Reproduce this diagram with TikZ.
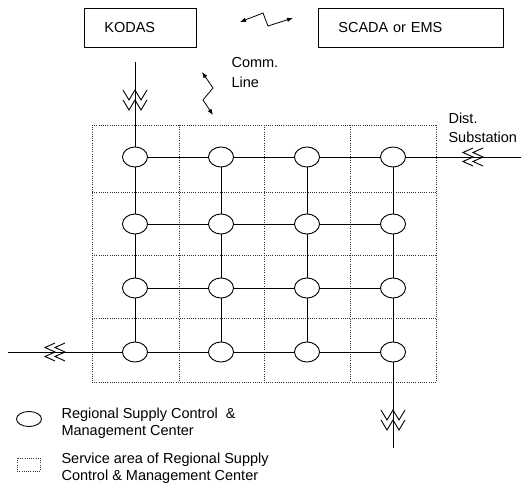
\documentclass[tikz,border=0pt]{standalone}
\usepackage{fontspec}
\setmainfont{Liberation Sans}
\usepackage{tikz}
\usetikzlibrary{arrows.meta, shapes.geometric}

\tikzset{
    box/.style={draw, line width=0.8pt, inner xsep=20pt, minimum height=39pt, align=left, anchor=north west},
    rscc/.style={draw, ellipse, line width=0.9pt, fill=white, minimum width=25pt, minimum height=20pt, inner sep=0pt},
    area/.style={line width=0.5pt, black!80, dash pattern=on 0.6pt off 1.6pt},
    link/.style={line width=0.9pt},
    comm/.style={line width=0.8pt, {Latex[length=6pt,width=4.5pt]}-{Latex[length=6pt,width=4.5pt]}},
    cutv/.pic={\draw[line width=0.9pt] (-12,0) -- (-6,10) -- (0,0) -- (6,10) -- (12,0)
        (-12,10) -- (-6,20) -- (0,10) -- (6,20) -- (12,10);},
    cuth/.pic={\draw[line width=0.9pt] (0,-9) -- (-10,-4.5) -- (0,0) -- (-10,4.5) -- (0,9)
        (-10,-9) -- (-20,-4.5) -- (-10,0) -- (-20,4.5) -- (-10,9);}
}

\begin{document}
\begin{tikzpicture}[x=1pt, y=-1pt, every node/.style={font=\fontsize{14.5}{17}\selectfont}]
    \useasboundingbox (0,0) rectangle (523,492);
    \node[box, text width=72pt] (kodas) at (84,8) {KODAS};
    \node[box, text width=145pt] (scada) at (318,8) {SCADA or EMS};
    \coordinate (c1) at (240,22);
    \coordinate (c2) at (293,18);
    \draw[comm] (c1) -- (263,13) -- (268,26) -- (c2);
    \coordinate (c3) at (202,72);
    \coordinate (c4) at (213,115);
    \draw[comm] (c3) -- (213,88) -- (203,100) -- (c4);
    \node[anchor=north west, align=left] (commtext) at (228,54) {Comm.\\[3pt]Line};
    \node[anchor=north west, align=left] (dist) at (445,109) {Dist.\\[2pt]Substation};

    \foreach \x in {92,179,264,350,436}
        \draw[area] (\x,125) -- (\x,382);
    \foreach \y in {125,192,255,318,382}
        \draw[area] (92,\y) -- (436,\y);

    \foreach \x [count=\i] in {135,221,307,393}
        \foreach \y [count=\j] in {157,224,288,352}
            \node[rscc] (r\i\j) at (\x,\y) {};
    \foreach \i in {1,...,4}
        \foreach \j/\k in {1/2,2/3,3/4} {
            \draw[link] (r\i\j) -- (r\i\k);
            \draw[link] (r\j\i) -- (r\k\i);
        }

    \coordinate (kodasline) at (135,62);
    \coordinate (east) at (521,157);
    \coordinate (west) at (8,352);
    \coordinate (south) at (393,448);
    \draw[link] (kodasline) -- (r11);
    \draw[link] (r41) -- (east);
    \draw[link] (west) -- (r14);
    \draw[link] (r44) -- (south);
    \pic at (135,90) {cutv};
    \pic at (393,410) {cutv};
    \pic at (483,157) {cuth};
    \pic at (65,352) {cuth};

    \node[rscc, minimum height=15pt] (legell) at (29,419) {};
    \node[anchor=west, align=left] (legtext1) at (58,423) {Regional Supply Control \ \&\\Management Center};
    \draw[area] (17,458) rectangle (40,471);
    \node[anchor=west, align=left] (legtext2) at (58,468) {Service area of Regional Supply\\Control \& Management Center};
\end{tikzpicture}
\end{document}
